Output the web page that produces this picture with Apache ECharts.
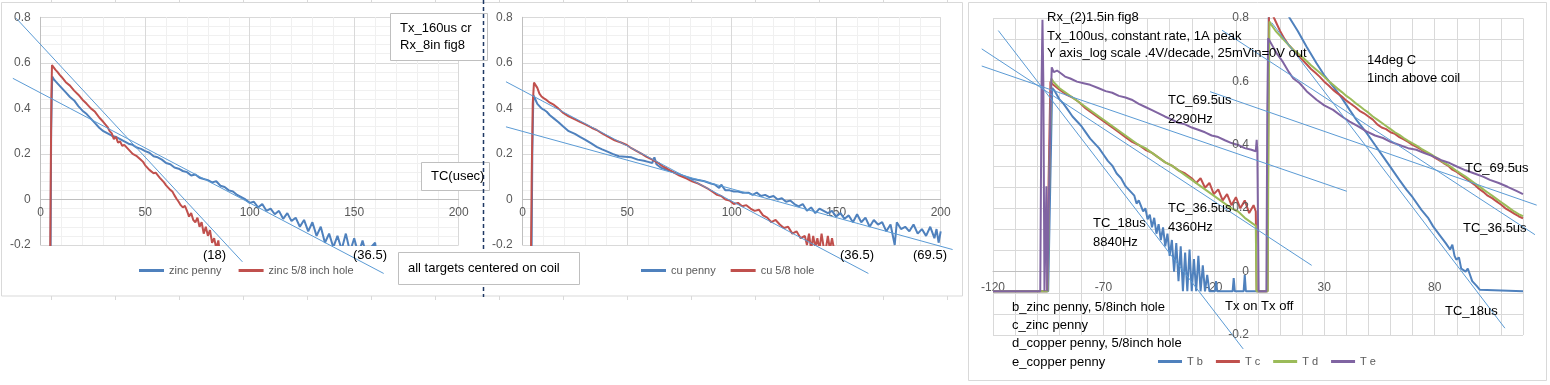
<!DOCTYPE html>
<html><head><meta charset="utf-8">
<script src="https://cdn.jsdelivr.net/npm/echarts@6/dist/echarts.min.js"></script>
<style>html,body{margin:0;padding:0;background:#fff}#c{width:1550px;height:385px}</style>
</head><body><div id="c"></div>
<script>
// ---------- Chart 1 (zinc) ----------
const xRange12 = [0, 200];
const yRange12 = [-0.2, 0.8];
const zincPenny = [[4.7,-0.3],[5.0,0.3],[5.5,0.54],[6.5,0.525],[8,0.51],[10,0.49],[12,0.47],[14,0.45],[16,0.435],[18,0.41],[20,0.39],[22,0.375],[24,0.355],[26,0.335],[28,0.315],[30,0.3],[32,0.29],[34,0.28],[36,0.275],[38,0.265],[40,0.255],[42,0.245],[44,0.24],[46,0.228],[48,0.222],[50,0.212],[52,0.205],[54,0.19],[56,0.185],[58,0.175],[60,0.16],[62,0.155],[64,0.14],[66,0.135],[68,0.125],[70,0.12],[72,0.105],[74,0.11],[76,0.095],[78,0.09],[80,0.085],[82,0.075],[84,0.08],[86,0.06],[88,0.055],[90,0.04],[92,0.035],[94,0.02],[96,0.01],[98,0.0],[100,-0.015],[102,-0.01],[104,-0.035],[106,-0.02],[108,-0.05],[110,-0.04],[112,-0.065],[114,-0.05],[116,-0.085],[118,-0.06],[120,-0.095],[122,-0.08],[124,-0.12],[126,-0.09],[128,-0.14],[130,-0.1],[132,-0.16],[134,-0.12],[136,-0.19],[138,-0.15],[140,-0.21],[142,-0.16],[144,-0.22],[146,-0.15],[148,-0.23],[150,-0.17],[152,-0.24],[154,-0.18],[156,-0.25],[158,-0.21],[160,-0.19],[161,-0.26]];
const zincHole = [[4.5,-0.3],[4.8,0.1],[5.1,0.45],[5.4,0.59],[6,0.585],[7,0.57],[8,0.56],[9,0.548],[10,0.538],[12,0.515],[14,0.5],[16,0.478],[18,0.46],[20,0.438],[22,0.42],[24,0.4],[26,0.385],[28,0.36],[30,0.34],[32,0.318],[33,0.3],[34,0.29],[35,0.265],[36,0.275],[37,0.25],[38,0.255],[39,0.235],[40,0.24],[42,0.22],[44,0.2],[46,0.19],[47.5,0.178],[49,0.165],[50,0.15],[52,0.13],[54,0.115],[55,0.118],[57,0.095],[59,0.075],[60,0.062],[62,0.042],[63,0.035],[64,0.018],[65,0.003],[66,-0.01],[67,-0.025],[68,-0.035],[69,-0.028],[70,-0.05],[71,-0.075],[72,-0.06],[73,-0.09],[74,-0.1],[75,-0.08],[76,-0.12],[77,-0.1],[78,-0.15],[79,-0.12],[80,-0.16],[81,-0.135],[82,-0.19],[83,-0.17],[84,-0.215],[85,-0.18],[86,-0.26]];
const trendZinc18 = [[-17.1,0.796],[93.8,-0.274]];
const trendZinc365 = [[-18.7,0.532],[163,-0.325]];

// ---------- Chart 2 (copper) ----------
const cuPenny = [[4.2,-0.3],[4.6,0.2],[5.1,0.458],[6,0.44],[7,0.42],[8,0.41],[9,0.4],[10,0.395],[11.5,0.385],[13,0.37],[15,0.355],[17,0.34],[19.4,0.32],[22,0.3],[25,0.288],[27.4,0.275],[30,0.262],[33,0.245],[35.4,0.231],[38,0.22],[40,0.212],[43,0.2],[46,0.19],[49,0.188],[52,0.185],[55,0.175],[58,0.17],[60,0.165],[62,0.16],[63,0.185],[64,0.155],[66,0.14],[69,0.13],[72,0.12],[75,0.11],[78,0.1],[81,0.09],[84,0.085],[87,0.08],[90,0.07],[92,0.065],[94,0.05],[95,0.065],[97,0.04],[99,0.04],[101,0.035],[103,0.035],[105,0.03],[108,0.03],[110,0.02],[112,0.03],[114,0.015],[116,0.02],[118,0.01],[120,0.015],[122,0.0],[124,0.005],[126,-0.01],[128,-0.005],[130,-0.02],[132,-0.03],[134,-0.02],[136,-0.05],[138,-0.035],[140,-0.06],[142,-0.04],[144,-0.05],[146,-0.06],[148,-0.05],[150,-0.075],[152,-0.06],[154,-0.085],[156,-0.07],[158,-0.1],[160,-0.065],[162,-0.1],[164,-0.08],[166,-0.12],[168,-0.09],[170,-0.11],[172,-0.1],[174,-0.14],[176,-0.11],[178,-0.2],[179,-0.1],[181,-0.13],[183,-0.12],[185,-0.14],[187,-0.11],[189,-0.15],[191,-0.13],[193,-0.16],[195,-0.12],[197,-0.17],[198,-0.13],[199,-0.19],[200,-0.14]];
const cuHole = [[3.9,-0.3],[4.3,0.1],[4.8,0.42],[5.4,0.513],[6,0.508],[7,0.49],[8,0.465],[9,0.452],[10,0.445],[11.5,0.436],[13,0.425],[15,0.415],[17,0.4],[19.4,0.38],[22,0.365],[25,0.352],[27.4,0.341],[30,0.33],[33,0.315],[35.4,0.305],[38,0.29],[41,0.275],[44,0.26],[47,0.25],[49.8,0.239],[52,0.225],[55,0.21],[57,0.2],[59.3,0.187],[62,0.175],[65,0.16],[67,0.145],[69,0.136],[72,0.12],[75,0.105],[78.5,0.092],[81,0.08],[84,0.07],[87,0.055],[89,0.045],[91,0.033],[93,0.02],[95,0.015],[97,0.0],[99,-0.005],[101,-0.02],[103,-0.015],[105,-0.03],[107,-0.025],[109,-0.04],[111,-0.05],[113,-0.045],[115,-0.07],[117,-0.08],[119,-0.1],[121,-0.09],[123,-0.11],[125,-0.125],[127,-0.12],[129,-0.15],[131,-0.14],[133,-0.17],[135,-0.16],[136,-0.2],[137,-0.15],[138,-0.22],[139,-0.16],[140,-0.21],[141,-0.17],[142,-0.22],[143,-0.15],[144,-0.21],[145,-0.22],[146,-0.16],[147,-0.22],[148,-0.17],[149,-0.22],[150,-0.26]];
const trendCu365 = [[-8,0.517],[165.4,-0.325]];
const trendCu695 = [[-8,0.319],[205.7,-0.22]];

// ---------- Chart 3 (log-amp decay, two cycles) ----------
const xRange3 = [-120, 120];
const yRange3 = [-0.2, 0.8];
const yTicks3 = [-0.2, 0, 0.2, 0.4, 0.6, 0.8];
const tb = [[-120,-0.062],[-95,-0.062],[-94,0.3],[-93.2,0.58],[-92,0.57],[-90,0.545],[-88,0.53],[-86,0.51],[-84,0.49],[-82,0.475],[-80,0.46],[-78,0.44],[-76,0.42],[-74,0.405],[-72,0.39],[-70,0.37],[-68,0.35],[-66,0.335],[-64,0.31],[-62,0.295],[-60,0.27],[-58,0.255],[-56,0.24],[-55,0.215],[-54,0.225],[-52,0.19],[-51,0.2],[-50,0.165],[-49,0.18],[-48,0.14],[-47,0.17],[-46,0.12],[-45,0.15],[-44,0.1],[-43,0.14],[-42,0.08],[-41,0.12],[-40,0.05],[-39,0.1],[-38,0.0],[-37,0.09],[-36,-0.03],[-35,0.08],[-34,-0.062],[-33,0.06],[-32,-0.062],[-31,0.07],[-30,-0.062],[-29,0.04],[-28,-0.062],[-27,0.05],[-26,-0.062],[-25,0.02],[-24,-0.062],[-23,-0.01],[-22,-0.062],[-19.5,-0.062],[-19,-0.03],[-18.5,-0.062],[-11.5,-0.062],[-11,-0.02],[-10.5,-0.062],[-6.5,-0.062],[-6,-0.01],[-5.5,-0.062],[4.2,-0.062],[4.6,0.5],[5,0.95],[8,0.9],[11,0.85],[14.4,0.8],[18,0.76],[22,0.71],[26.5,0.658],[30,0.62],[34,0.585],[38,0.548],[41.5,0.511],[45,0.475],[49,0.44],[53,0.4],[56.6,0.364],[60,0.33],[64,0.29],[67.2,0.259],[70,0.235],[74,0.195],[77,0.17],[79.3,0.143],[82,0.118],[85,0.09],[87,0.07],[88,0.085],[89,0.05],[89.8,0.038],[91,0.045],[92,0.01],[94,0.0],[95,0.01],[97,-0.03],[99,-0.045],[100.4,-0.057],[101,-0.062],[120,-0.062]];
const tc = [[-120,-0.062],[-95.5,-0.062],[-94.8,0.3],[-94,0.6],[-92.7,0.59],[-90,0.575],[-87,0.56],[-84,0.55],[-81,0.535],[-78,0.515],[-75,0.5],[-72,0.485],[-69,0.47],[-66,0.455],[-63,0.44],[-60,0.425],[-57,0.41],[-54,0.4],[-51,0.385],[-48,0.375],[-45,0.36],[-42,0.345],[-39,0.335],[-36,0.32],[-33,0.31],[-30,0.295],[-28,0.28],[-26,0.295],[-24,0.265],[-22,0.28],[-20,0.245],[-18,0.26],[-16,0.225],[-14,0.245],[-12,0.21],[-10,0.235],[-8,0.2],[-6,0.225],[-4,0.185],[-2,0.21],[-1,0.19],[-0.6,-0.062],[4.3,-0.062],[4.7,0.5],[5,0.85],[6,0.82],[8,0.79],[10,0.76],[12,0.735],[14,0.715],[16,0.7],[18,0.685],[20,0.67],[22,0.655],[24,0.64],[26,0.628],[28,0.615],[30,0.6],[32,0.588],[34,0.574],[36,0.563],[38,0.553],[40,0.54],[42,0.53],[44,0.52],[46,0.508],[48,0.5],[50,0.49],[52,0.48],[54,0.465],[56,0.455],[58,0.45],[60,0.44],[62,0.435],[64,0.425],[66,0.418],[68,0.41],[70,0.4],[72,0.393],[74,0.385],[76,0.375],[78,0.37],[80,0.36],[82,0.352],[84,0.343],[86,0.335],[88,0.322],[90,0.315],[92,0.305],[94,0.295],[96,0.285],[98,0.275],[100,0.262],[102,0.252],[104,0.24],[106,0.232],[108,0.222],[110,0.212],[112,0.2],[114,0.192],[116,0.183],[118,0.175],[120,0.168]];
const td = [[-120,-0.062],[-95.2,-0.062],[-94.5,0.3],[-93.6,0.61],[-92.7,0.6],[-90,0.58],[-87,0.565],[-84,0.55],[-81,0.535],[-78,0.52],[-75,0.505],[-72,0.49],[-69,0.475],[-66,0.46],[-63,0.445],[-60,0.43],[-57,0.415],[-54,0.4],[-51,0.39],[-48,0.375],[-45,0.36],[-42,0.345],[-39,0.335],[-36,0.32],[-33,0.305],[-30,0.29],[-27,0.275],[-24,0.26],[-21,0.245],[-18,0.23],[-15,0.215],[-12,0.2],[-9,0.19],[-6,0.17],[-3,0.155],[-1,0.145],[-0.7,-0.062],[4.4,-0.062],[4.8,0.5],[5.2,0.79],[6,0.78],[8,0.76],[10,0.745],[12,0.73],[14,0.715],[16,0.7],[18,0.69],[20,0.678],[22,0.665],[24,0.652],[26,0.64],[28,0.628],[30,0.615],[32,0.602],[34,0.59],[36,0.578],[38,0.567],[40,0.555],[42,0.545],[44,0.533],[46,0.523],[48,0.512],[50,0.502],[52,0.49],[54,0.48],[56,0.47],[58,0.46],[60,0.45],[62,0.44],[64,0.432],[66,0.422],[68,0.413],[70,0.405],[72,0.397],[74,0.388],[76,0.38],[78,0.372],[80,0.363],[82,0.355],[84,0.345],[86,0.337],[88,0.328],[90,0.318],[92,0.309],[94,0.3],[96,0.29],[98,0.28],[100,0.27],[102,0.26],[104,0.25],[106,0.24],[108,0.23],[110,0.22],[112,0.21],[114,0.2],[116,0.19],[118,0.182],[120,0.175]];
const te = [[-120,-0.062],[-98.6,-0.062],[-98.0,0.6],[-97.6,0.795],[-97.2,0.6],[-96.7,-0.062],[-96.2,-0.062],[-95.8,0.27],[-95.4,-0.062],[-94.8,-0.062],[-94.0,0.5],[-93.4,0.645],[-92.5,0.63],[-91,0.635],[-89,0.625],[-87.4,0.616],[-85,0.61],[-82,0.6],[-79,0.595],[-76,0.59],[-72.4,0.58],[-69,0.57],[-66,0.565],[-63,0.555],[-60,0.55],[-57.2,0.543],[-54,0.53],[-51,0.52],[-48,0.51],[-45,0.5],[-42.2,0.49],[-39,0.48],[-36,0.47],[-33,0.465],[-30,0.455],[-27.1,0.448],[-24,0.44],[-21,0.43],[-18,0.425],[-15,0.415],[-12,0.406],[-9,0.4],[-6,0.39],[-3,0.385],[-1,0.38],[-0.6,0.416],[-0.3,0.38],[0.3,-0.062],[3.8,-0.062],[4.2,0.5],[4.6,0.737],[6,0.72],[8.4,0.69],[11,0.665],[14,0.63],[16,0.61],[18.9,0.595],[22,0.57],[26.5,0.543],[30,0.525],[34,0.511],[38,0.49],[41.5,0.474],[45,0.46],[49.1,0.443],[53,0.43],[56.6,0.422],[60,0.41],[64,0.4],[68,0.39],[71.7,0.385],[75,0.375],[79,0.365],[83,0.352],[86.8,0.343],[90,0.332],[94,0.32],[98,0.31],[101.9,0.3],[105,0.29],[109,0.28],[113,0.268],[117,0.255],[120,0.245]];
const trend3 = [
  [[-117.6,0.8],[-6.7,-0.242]],
  [[-125.1,0.74],[24.3,0.0316]],
  [[-125.1,0.684],[40.2,0.274]],
  [[-16.3,0.801],[125.4,0.132]],
  [[-21.7,0.6],[126.2,0.2286]],
  [[6.2,0.826],[111.8,-0.174]]
];

const C_BLUE='#4F81BD', C_RED='#C0504D', C_GREEN='#9BBB59', C_PURPLE='#8064A2', C_TREND='#5B9BD5';
const FONT='"Liberation Sans", Arial, sans-serif';
const lab = {color:'#595959', fontSize:12, fontFamily:FONT};

const G = [
  {left:40.7, top:17.3, width:418, height:227.7},
  {left:522.7, top:17.3, width:418, height:227.7},
  {left:993, top:18.3, width:530, height:316.7}
];
// overlay grid (same scale, wider range) for the trend lines that run past the plot edges
function overlay(g, xr, yr, nx, ny){
  const kx = g.width/(xr[1]-xr[0]), ky = g.height/(yr[1]-yr[0]);
  return {left:g.left+(nx[0]-xr[0])*kx, width:(nx[1]-nx[0])*kx,
          top:g.top+(yr[1]-ny[1])*ky, height:(ny[1]-ny[0])*ky};
}
const OX = [[-25,210],[-15,215],[-130,130]];
const OY = [[-0.45,0.85],[-0.45,0.85],[-0.3,0.9]];
const grids = G.concat([
  overlay(G[0], xRange12, yRange12, OX[0], OY[0]),
  overlay(G[1], xRange12, yRange12, OX[1], OY[1]),
  overlay(G[2], xRange3, yRange3, OX[2], OY[2])
]);
function zeroOffsetX(g, yr){ return -g.height*(0-yr[0])/(yr[1]-yr[0]); }

function dataLine(name, data, color, gi){
  return {type:'line', name, data, xAxisIndex:gi, yAxisIndex:gi, symbol:'none', showSymbol:false,
    lineStyle:{color, width:2}, itemStyle:{color}, clip:true, animation:false, z:3};
}
function trendLine(data, gi){
  return {type:'line', data, xAxisIndex:gi, yAxisIndex:gi, symbol:'none', showSymbol:false,
    lineStyle:{color:C_TREND, width:1}, clip:false, silent:true, z:4, animation:false};
}
function xAx12(gi){
  return {gridIndex:gi, type:'value', min:xRange12[0], max:xRange12[1], interval:50, position:'bottom',
    offset:zeroOffsetX(G[gi], yRange12),
    axisLine:{show:true, onZero:false, lineStyle:{color:'#BFBFBF'}}, axisTick:{show:false},
    axisLabel:Object.assign({margin:7, showMinLabel:true, showMaxLabel:true, hideOverlap:false}, lab),
    splitLine:{show:true, lineStyle:{color:'#D9D9D9'}},
    minorTick:{show:false, splitNumber:5}, minorSplitLine:{show:true, lineStyle:{color:'#F0F0F0'}}};
}
function yAx12(gi){
  return {gridIndex:gi, type:'value', min:yRange12[0], max:yRange12[1], interval:0.2, position:'left',
    axisLine:{show:true, onZero:false, lineStyle:{color:'#BFBFBF'}}, axisTick:{show:false},
    axisLabel:Object.assign({margin:10, showMinLabel:true, showMaxLabel:true, hideOverlap:false,
      formatter:v=>String(Math.round(v*10)/10)}, lab),
    splitLine:{show:true, lineStyle:{color:'#D9D9D9'}},
    minorTick:{show:false, splitNumber:5}, minorSplitLine:{show:true, lineStyle:{color:'#F0F0F0'}}};
}
function hiddenAx(gi, r){ return {gridIndex:gi, type:'value', min:r[0], max:r[1], show:false,
  axisLine:{onZero:false}, splitLine:{show:false}}; }

const textEls = [];
function txt(s, x, y, size, color, z, align){
  textEls.push({type:'text', x, y, z: z||100, silent:true,
    style:{text:s, font:(size||13)+'px '+FONT, fill:color||'#000', align:align||'left', verticalAlign:'middle'}});
}
function box(x, y, w, h, z){
  textEls.push({type:'rect', z: z||90, silent:true, shape:{x, y, width:w, height:h},
    style:{fill:'#fff', stroke:'#BFBFBF', lineWidth:1}});
}
const deco = [];
for (let k=0;k<15;k++){ const x=51+64*k+0.5;
  deco.push({type:'line', silent:true, z:0, shape:{x1:x,y1:0,x2:x,y2:2.5}, style:{stroke:'#D9D9D9',lineWidth:1}});
  deco.push({type:'line', silent:true, z:0, shape:{x1:x,y1:296,x2:x,y2:300}, style:{stroke:'#D9D9D9',lineWidth:1}});
}
deco.push({type:'rect', silent:true, z:1, shape:{x:1.5,y:2.5,width:961,height:293.5}, style:{fill:'none', stroke:'#D9D9D9', lineWidth:1}});
deco.push({type:'rect', silent:true, z:1, shape:{x:968.5,y:2.5,width:578,height:378}, style:{fill:'none', stroke:'#D9D9D9', lineWidth:1}});

box(390.5, 13.5, 97, 47);
box(421.5, 162.5, 68, 28);
txt('Tx_160us cr', 400, 28); txt('Rx_8in fig8', 400, 45);
txt('TC(usec)', 431, 176);
deco.push({type:'line', silent:true, z:95, shape:{x1:483.5,y1:0,x2:483.5,y2:297}, style:{stroke:'#1F3864', lineWidth:1.5, lineDash:[4,3]}});
box(398.5, 252.5, 181, 32, 96);
txt('all targets centered on coil', 408, 268, 13, '#000', 97);
txt('(18)', 203, 255); txt('(36.5)', 353, 255);
txt('(36.5)', 840, 255); txt('(69.5)', 913, 255);

txt('Rx_(2)1.5in fig8', 1047, 17.5);
txt('Tx_100us, constant rate, 1A peak', 1047, 36);
txt('Y axis_log scale .4V/decade, 25mVin=0V out', 1047, 53.5);
txt('14deg C', 1367, 60); txt('1inch above coil', 1367, 78);
txt('TC_69.5us', 1168, 100); txt('2290Hz', 1168, 119);
txt('TC_36.5us', 1168, 208.5); txt('4360Hz', 1168, 227);
txt('TC_18us', 1093, 223.5); txt('8840Hz', 1093, 242);
txt('Tx on Tx off', 1225, 306.5);
txt('TC_69.5us', 1465, 168.5);
txt('TC_36.5us', 1463, 228);
txt('TC_18us', 1445, 311);
txt('b_zinc penny, 5/8inch hole', 1012, 307);
txt('c_zinc penny', 1012, 325);
txt('d_copper penny, 5/8inch hole', 1012, 343.5);
txt('e_copper penny', 1012, 362);

const legText = {color:'#595959', fontSize:11, fontFamily:FONT};
const legBase = {icon:'rect', itemHeight:3, selectedMode:false, textStyle:legText, padding:0};
const option = {
  animation:false,
  backgroundColor:'#ffffff',
  grid: grids,
  xAxis:[ xAx12(0), xAx12(1),
    {gridIndex:2, type:'value', min:xRange3[0], max:xRange3[1], interval:10, position:'bottom',
     offset:zeroOffsetX(G[2], yRange3),
     axisLine:{show:true, onZero:false, lineStyle:{color:'#BFBFBF'}}, axisTick:{show:false},
     axisLabel:Object.assign({margin:10, showMinLabel:true, showMaxLabel:false, hideOverlap:false,
       formatter:v=>{const r=Math.round(v); return ((r+120)%50===0)?String(r):'';}}, lab),
     splitLine:{show:true, lineStyle:{color:'#D9D9D9'}}},
    hiddenAx(3, OX[0]), hiddenAx(4, OX[1]), hiddenAx(5, OX[2])
  ],
  yAxis:[ yAx12(0), yAx12(1),
    {gridIndex:2, type:'value', min:yRange3[0], max:yRange3[1], interval:0.2, position:'left',
     axisLine:{show:false, onZero:false}, axisTick:{show:false}, axisLabel:{show:false},
     splitLine:{show:true, lineStyle:{color:'#D9D9D9'}},
     minorTick:{show:false, splitNumber:3}, minorSplitLine:{show:true, lineStyle:{color:'#D9D9D9'}}},
    hiddenAx(3, OY[0]), hiddenAx(4, OY[1]), hiddenAx(5, OY[2])
  ],
  legend:[
    Object.assign({data:['zinc penny','zinc 5/8 inch hole'], left:139, top:265, itemWidth:25, itemGap:17}, legBase),
    Object.assign({data:['cu penny','cu 5/8 hole'], left:641, top:265, itemWidth:25, itemGap:15}, legBase),
    Object.assign({data:['T b','T c','T d','T e'], left:1158, top:356, itemWidth:24, itemGap:13}, legBase)
  ],
  series:[
    dataLine('zinc penny', zincPenny, C_BLUE, 0),
    dataLine('zinc 5/8 inch hole', zincHole, C_RED, 0),
    trendLine(trendZinc18, 3), trendLine(trendZinc365, 3),
    dataLine('cu penny', cuPenny, C_BLUE, 1),
    dataLine('cu 5/8 hole', cuHole, C_RED, 1),
    trendLine(trendCu365, 4), trendLine(trendCu695, 4),
    dataLine('T b', tb, C_BLUE, 2),
    dataLine('T c', tc, C_RED, 2),
    dataLine('T d', td, C_GREEN, 2),
    dataLine('T e', te, C_PURPLE, 2)
  ].concat(trend3.map(t=>trendLine(t,5))),
  graphic:{elements: deco.concat(textEls)}
};
const chart = echarts.init(document.getElementById('c'), null, {renderer:'canvas'});
chart.setOption(option);
// chart 3 y tick labels at the x=0 crossing, positioned through the chart's own scale (own layer, on top)
const yLab3 = yTicks3.map(v => {
  const p = chart.convertToPixel({gridIndex:2}, [0, v]);
  return {type:'text', x:Math.round(p[0]-9), y:Math.round(p[1]), z:200, zlevel:1, silent:true,
    style:{text:String(Math.round(v*10)/10), font:'12px '+FONT, fill:'#595959', align:'right', verticalAlign:'middle'}};
});
chart.setOption({graphic:{elements: deco.concat(textEls).concat(yLab3)}});
</script></body></html>
